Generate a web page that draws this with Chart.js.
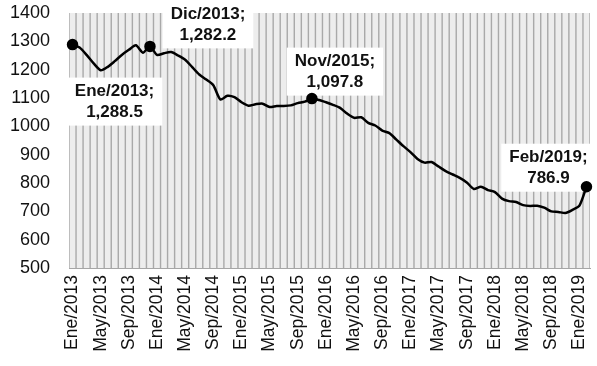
<!DOCTYPE html>
<html>
<head>
<meta charset="utf-8">
<style>
    body { margin: 0; background: #fff; }
</style>
</head>
<body>
<div id="chartContainer" style="width: 597px; height: 366px;">
    <canvas id="myChart"></canvas>
</div>

<script src="https://cdn.jsdelivr.net/npm/chart.js"></script>
<script>
    // Meses de la serie (Ene/2013 - Feb/2019)
    const meses = [
        'Ene/2013', 'Feb/2013', 'Mar/2013', 'Abr/2013', 'May/2013', 'Jun/2013', 'Jul/2013', 'Ago/2013', 'Sep/2013', 'Oct/2013', 'Nov/2013', 'Dic/2013',
        'Ene/2014', 'Feb/2014', 'Mar/2014', 'Abr/2014', 'May/2014', 'Jun/2014', 'Jul/2014', 'Ago/2014', 'Sep/2014', 'Oct/2014', 'Nov/2014', 'Dic/2014',
        'Ene/2015', 'Feb/2015', 'Mar/2015', 'Abr/2015', 'May/2015', 'Jun/2015', 'Jul/2015', 'Ago/2015', 'Sep/2015', 'Oct/2015', 'Nov/2015', 'Dic/2015',
        'Ene/2016', 'Feb/2016', 'Mar/2016', 'Abr/2016', 'May/2016', 'Jun/2016', 'Jul/2016', 'Ago/2016', 'Sep/2016', 'Oct/2016', 'Nov/2016', 'Dic/2016',
        'Ene/2017', 'Feb/2017', 'Mar/2017', 'Abr/2017', 'May/2017', 'Jun/2017', 'Jul/2017', 'Ago/2017', 'Sep/2017', 'Oct/2017', 'Nov/2017', 'Dic/2017',
        'Ene/2018', 'Feb/2018', 'Mar/2018', 'Abr/2018', 'May/2018', 'Jun/2018', 'Jul/2018', 'Ago/2018', 'Sep/2018', 'Oct/2018', 'Nov/2018', 'Dic/2018',
        'Ene/2019', 'Feb/2019'
    ];

    const valores = [
        1288.5, 1278, 1252, 1222, 1198, 1210, 1230, 1252, 1270, 1286, 1260, 1282.2,
        1252, 1258, 1262, 1250, 1235, 1209, 1183, 1165, 1145, 1095, 1108, 1103,
        1085, 1073, 1078, 1080, 1068, 1072, 1072, 1074, 1082, 1087, 1097.8, 1093,
        1085, 1076, 1065, 1045, 1030, 1032, 1012, 1003, 985, 976, 953, 930,
        909, 885, 872, 874, 858, 842, 830, 818, 802, 779, 787, 775,
        768, 745, 736, 733, 722, 719, 720, 713, 700, 698, 694, 705,
        720, 786.9
    ];

    // Puntos destacados con su etiqueta (desplazamiento de la caja en px)
    const destacados = [
        { mes: 'Ene/2013', dx: 42, dy: 57 },
        { mes: 'Dic/2013', dx: 58, dy: -22 },
        { mes: 'Nov/2015', dx: 23, dy: -27 },
        { mes: 'Feb/2019', dx: -38, dy: -19 }
    ];

    const yMin = 500;
    const yMax = 1400;
    const yPaso = 100;

    // franjas verticales del fondo, una por mes hasta el tope del eje
    const franjas = meses.map(() => yMax);

    const idxDestacados = destacados.map(d => meses.indexOf(d.mes));

    function formatoValor(v) {
        return v.toLocaleString('en-US', { minimumFractionDigits: 1, maximumFractionDigits: 1 });
    }

    const fondoPlugin = {
        id: 'fondoPlugin',
        beforeDatasetsDraw(chart) {
            const { ctx, chartArea } = chart;
            ctx.save();
            ctx.fillStyle = '#a9a9a9';
            ctx.fillRect(chartArea.left, chartArea.top, chartArea.right - chartArea.left, chartArea.bottom - chartArea.top);
            ctx.restore();
        }
    };

    const etiquetasPlugin = {
        id: 'etiquetasPlugin',
        afterDatasetDraw(chart, args) {
            if (args.index !== 0) return;
            const ctx = chart.ctx;
            const puntos = chart.getDatasetMeta(1).data;
            ctx.save();
            ctx.font = 'bold 17px "Liberation Sans", Arial, sans-serif';
            ctx.textAlign = 'center';
            ctx.textBaseline = 'middle';
            destacados.forEach((d, k) => {
                const i = idxDestacados[k];
                const p = puntos[i];
                const linea1 = d.mes + ';';
                const linea2 = formatoValor(valores[i]);
                const ancho = Math.max(ctx.measureText(linea1).width, ctx.measureText(linea2).width) + 16;
                const alto = 48;
                const cx = p.x + d.dx;
                const cy = p.y + d.dy;
                ctx.fillStyle = '#ffffff';
                ctx.fillRect(cx - ancho / 2, cy - alto / 2, ancho, alto);
                ctx.fillStyle = '#111111';
                ctx.fillText(linea1, cx, cy - 10);
                ctx.fillText(linea2, cx, cy + 11);
            });
            ctx.restore();
        }
    };

    document.addEventListener('DOMContentLoaded', function() {
        const ctx = document.getElementById('myChart').getContext('2d');

        new Chart(ctx, {
            type: 'bar',
            data: {
                labels: meses,
                datasets: [
                    {
                        type: 'bar',
                        data: franjas,
                        backgroundColor: '#ededed',
                        borderWidth: 0,
                        barPercentage: 0.8,
                        categoryPercentage: 1.0,
                        order: 2
                    },
                    {
                        type: 'line',
                        data: valores,
                        borderColor: '#000000',
                        borderWidth: 2.5,
                        tension: 0.25,
                        pointRadius: valores.map((v, i) => idxDestacados.includes(i) ? 4.5 : 0),
                        pointBackgroundColor: '#000000',
                        pointBorderColor: '#000000',
                        fill: false,
                        order: 1
                    }
                ]
            },
            options: {
                responsive: true,
                maintainAspectRatio: false,
                animation: false,
                layout: { padding: { top: 13, right: 2, left: 0, bottom: 0 } },
                plugins: {
                    legend: { display: false },
                    tooltip: { enabled: false }
                },
                scales: {
                    x: {
                        offset: true,
                        grid: { display: false, drawTicks: false },
                        border: { display: true, color: '#a6a6a6', width: 1 },
                        ticks: {
                            autoSkip: false,
                            minRotation: 90,
                            maxRotation: 90,
                            padding: 7,
                            color: '#111111',
                            font: { family: '"Liberation Sans", Arial, sans-serif', size: 17.5 },
                            callback: function(value, index) {
                                return index % 4 === 0 ? meses[index] : '';
                            }
                        },
                        afterFit: function(scale) {
                            scale.height = 98;
                            scale.paddingTop = 0;
                            scale.paddingBottom = 0;
                            scale.paddingLeft = 0;
                            scale.paddingRight = 0;
                        }
                    },
                    y: {
                        min: yMin,
                        max: yMax,
                        grid: { display: false, drawTicks: false },
                        border: { display: false },
                        ticks: {
                            stepSize: yPaso,
                            padding: 19,
                            color: '#111111',
                            font: { family: '"Liberation Sans", Arial, sans-serif', size: 18 },
                            callback: function(value) { return String(value); }
                        },
                        afterFit: function(scale) {
                            scale.width = 69;
                            scale.paddingTop = 0;
                            scale.paddingBottom = 0;
                        }
                    }
                }
            },
            plugins: [fondoPlugin, etiquetasPlugin]
        });
    });
</script>
</body>
</html>
